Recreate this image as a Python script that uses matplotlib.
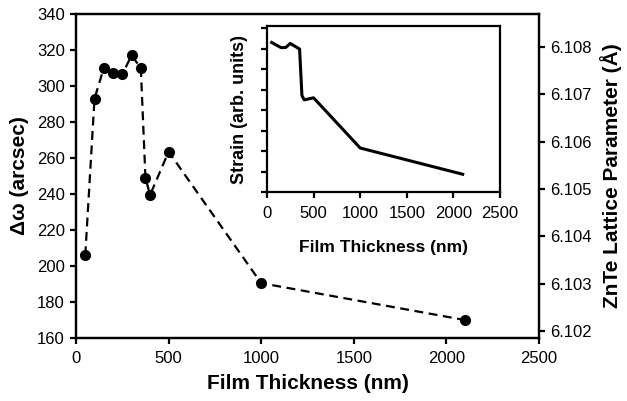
import matplotlib
matplotlib.use('Agg')
import matplotlib.pyplot as plt

plt.rcParams['font.family'] = ['Liberation Sans', 'DejaVu Sans']

# main data: rocking curve width vs film thickness
thickness = [50, 100, 150, 200, 250, 300, 350, 375, 400, 500, 1000, 2100]
fwhm = [206, 293, 310, 307, 306.5, 317, 310, 249, 239.5, 263.5, 190.5, 170]

# inset: strain vs thickness
strain_x = [50, 150, 200, 250, 350, 375, 400, 500, 1000, 2100]
strain_y = [7.3, 7.05, 7.05, 7.25, 6.98, 4.71, 4.5, 4.6, 2.15, 0.87]

left_ticks = list(range(160, 341, 20))
right_ticks = [6.102, 6.103, 6.104, 6.105, 6.106, 6.107, 6.108]
x_ticks = [0, 500, 1000, 1500, 2000, 2500]


def style_axes(ax, lw=1.6, size=12):
    for s in ax.spines.values():
        s.set_linewidth(lw)
    ax.tick_params(width=lw, length=4, direction='out', labelsize=size)


fig = plt.figure(figsize=(6.27, 4.01), dpi=100)
ax = fig.add_axes([0.1212, 0.157, 0.7385, 0.808])
ax.plot(thickness, fwhm, color='black', linestyle=(0, (4, 2.5)), linewidth=1.6,
        marker='o', markersize=7)
ax.set_xlim(0, 2500)
ax.set_ylim(160, 340)
ax.set_xticks(x_ticks)
ax.set_yticks(left_ticks)
style_axes(ax)
ax.tick_params(axis='x', pad=5)
ax.tick_params(axis='y', pad=4)
ax.set_xlabel('Film Thickness (nm)', fontsize=15, fontweight='bold', labelpad=6)
ax.set_ylabel('Δω (arcsec)', fontsize=15, fontweight='bold', labelpad=6)

ax2 = ax.twinx()
ax2.set_ylim(6.10185, 6.1087)
ax2.set_yticks(right_ticks)
ax2.set_yticklabels(['%.3f' % t for t in right_ticks])
style_axes(ax2)
ax2.tick_params(axis='y', pad=4)
ax2.set_ylabel('ZnTe Lattice Parameter (Å)', fontsize=15, fontweight='bold', labelpad=6)

ins = fig.add_axes([0.4258, 0.521, 0.3716, 0.414])
ins.plot(strain_x, strain_y, color='black', linewidth=2.2)
ins.set_xlim(0, 2500)
ins.set_ylim(0, 8.1)
ins.set_xticks(x_ticks)
ins.set_yticks(range(0, 9))
ins.set_yticklabels([])
style_axes(ins)
ins.tick_params(axis='x', pad=6)
ins.set_xlabel('Film Thickness (nm)', fontsize=12.5, fontweight='bold', labelpad=14)
ins.set_ylabel('Strain (arb. units)', fontsize=13, fontweight='bold', labelpad=6)

fig.savefig('out.png', dpi=100)
